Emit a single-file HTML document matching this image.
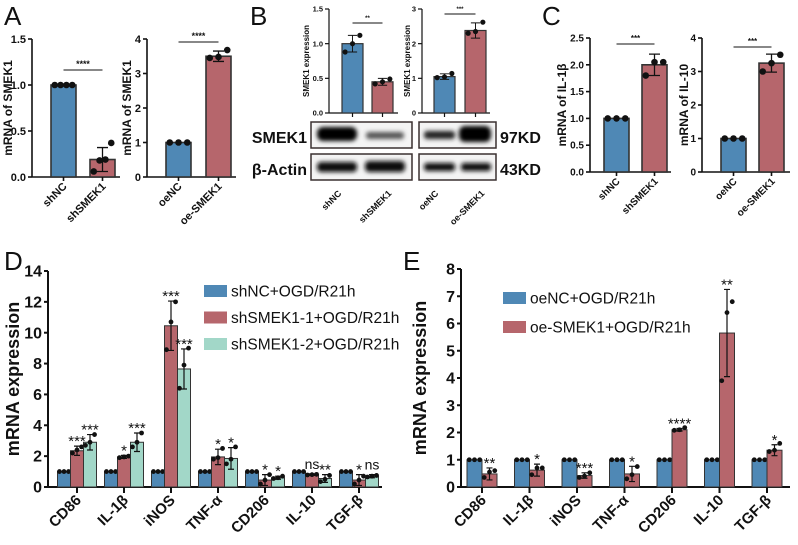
<!DOCTYPE html>
<html><head><meta charset="utf-8"><style>
body{margin:0;background:#fff;}
svg{display:block;font-family:"Liberation Sans",Arial,sans-serif;}
</style></head><body>
<svg id="fig" width="798" height="545" viewBox="0 0 798 545" xmlns="http://www.w3.org/2000/svg">
<defs><filter id="blur" x="-20%" y="-50%" width="140%" height="200%"><feGaussianBlur stdDeviation="2.2"/></filter></defs>
<g font-size="26" fill="#111">
<text x="4" y="25">A</text>
<text x="250" y="25">B</text>
<text x="542" y="25">C</text>
<text x="4" y="270">D</text>
<text x="403" y="270">E</text>
</g>
<g id="blots">
<rect x="311" y="122" width="101" height="26" fill="#f4f4f4" stroke="#3a3030" stroke-width="1.5"/>
<rect x="419" y="122" width="77" height="26" fill="#f4f4f4" stroke="#3a3030" stroke-width="1.5"/>
<rect x="311" y="154" width="101" height="26" fill="#f4f4f4" stroke="#3a3030" stroke-width="1.5"/>
<rect x="419" y="154" width="77" height="26" fill="#f4f4f4" stroke="#3a3030" stroke-width="1.5"/>
<g filter="url(#blur)">
<rect x="317" y="127" width="40" height="14" rx="6" fill="#000"/>
<rect x="366" y="132" width="38" height="7" rx="3" fill="#555"/>
<rect x="424" y="131" width="31" height="8" rx="3" fill="#222"/>
<rect x="459" y="126" width="32" height="16" rx="6" fill="#000"/>
<rect x="317" y="162" width="40" height="10" rx="4" fill="#111"/>
<rect x="365" y="161" width="40" height="11" rx="4" fill="#111"/>
<rect x="424" y="163" width="31" height="8" rx="3" fill="#111"/>
<rect x="461" y="163" width="30" height="8" rx="3" fill="#111"/>
</g>
<g font-weight="bold" font-size="16" fill="#111">
<text x="307" y="143" text-anchor="end">SMEK1</text>
<text x="307" y="175" text-anchor="end">β-Actin</text>
<text x="500" y="143">97KD</text>
<text x="500" y="175">43KD</text>
</g>
<g font-weight="bold" font-size="9" fill="#111" text-anchor="end">
<text transform="translate(342,194) rotate(-45)">shNC</text>
<text transform="translate(392,194) rotate(-45)">shSMEK1</text>
<text transform="translate(439,194) rotate(-45)">oeNC</text>
<text transform="translate(485,194) rotate(-45)">oe-SMEK1</text>
</g>
</g>
</svg>
<script>
const BLUE="#4f88b5", RED="#b6666c", TEAL="#a2d7c8";
// Panel A
const aLeftCats=["shNC","shSMEK1"], aLeftVals=[1.0,0.19], aLeftErr=[0,0.13], aLeftPts=[[1,1,1,1],[0.06,0.18,0.19,0.37]], aLeftTicks=[0,0.5,1.0,1.5], aLeftStar="****";
const aRightCats=["oeNC","oe-SMEK1"], aRightVals=[1.0,3.5], aRightErr=[0,0.15], aRightPts=[[1,1,1],[3.45,3.48,3.68]], aRightTicks=[0,1,2,3,4], aRightStar="****";
// Panel B
const bLeftVals=[1.0,0.45], bLeftErr=[0.12,0.05], bLeftPts=[[0.88,1.0,1.12],[0.42,0.45,0.49]], bLeftTicks=[0,0.5,1.0,1.5], bLeftStar="**";
const bRightVals=[1.05,2.38], bRightErr=[0.08,0.22], bRightPts=[[1.02,1.04,1.14],[2.3,2.35,2.62]], bRightTicks=[0,1,2,3], bRightStar="***";
// Panel C
const cLeftCats=["shNC","shSMEK1"], cLeftVals=[1.0,2.0], cLeftErr=[0,0.2], cLeftPts=[[1,1,1],[1.8,2.05,2.05]], cLeftTicks=[0,0.5,1.0,1.5,2.0,2.5], cLeftStar="***";
const cRightCats=["oeNC","oe-SMEK1"], cRightVals=[1.0,3.25], cRightErr=[0,0.27], cRightPts=[[1,1,1],[3.0,3.25,3.5]], cRightTicks=[0,1,2,3,4], cRightStar="***";
// Panel D
const dCats=["CD86","IL-1β","iNOS","TNF-α","CD206","IL-10","TGF-β"];
const dSeriesNames=["shNC+OGD/R21h","shSMEK1-1+OGD/R21h","shSMEK1-2+OGD/R21h"];
const dNC=[1,1,1,1,1,1,1];
const dSh1=[2.35,1.95,10.45,1.95,0.45,0.8,0.45];
const dSh1Err=[0.3,0.1,1.6,0.5,0.35,0.05,0.35];
const dSh2=[2.9,2.9,7.65,1.85,0.6,0.55,0.7];
const dSh2Err=[0.5,0.6,1.3,0.7,0.1,0.25,0.1];
const dSh1Pts=[[2.2,2.4,2.6],[1.9,1.95,2.0],[8.9,10.7,12.0],[1.8,1.9,2.5],[0.2,0.45,0.8],[0.78,0.8,0.82],[0.2,0.45,0.7]];
const dSh2Pts=[[2.7,2.9,3.4],[2.6,2.9,3.5],[6.4,7.9,9.0],[1.5,1.8,2.6],[0.55,0.6,0.7],[0.35,0.5,0.75],[0.65,0.7,0.75]];
const dStars1=["***","*","***","*","*","ns","*"];
const dStars2=["***","***","***","*","*","**","ns"];
const dTicks=[0,2,4,6,8,10,12,14];
// Panel E
const eCats=["CD86","IL-1β","iNOS","TNF-α","CD206","IL-10","TGF-β"];
const eSeriesNames=["oeNC+OGD/R21h","oe-SMEK1+OGD/R21h"];
const eNC=[1,1,1,1,1,1,1];
const eOE=[0.48,0.62,0.42,0.48,2.1,5.65,1.35];
const eOEErr=[0.22,0.22,0.1,0.28,0.05,1.6,0.2];
const eOEPts=[[0.35,0.55,0.6],[0.45,0.7,0.7],[0.35,0.4,0.52],[0.3,0.45,0.75],[2.08,2.1,2.18],[3.9,6.4,6.8],[1.3,1.35,1.6]];
const eStars=["**","*","***","*","****","**","*"];
const eTicks=[0,1,2,3,4,5,6,7,8];

const svg=document.getElementById('fig');
const NS="http://www.w3.org/2000/svg";
function mk(tag,attrs,parent){const e=document.createElementNS(NS,tag);for(const k in attrs)e.setAttribute(k,attrs[k]);(parent||svg).appendChild(e);return e;}

function axisY(g,x0,yTop,yBot,ticks,fs,fmt,lw){
  const max=ticks[ticks.length-1];
  const sy=v=>yBot-(v/max)*(yBot-yTop);
  const ax=mk('line',{x1:x0,x2:x0,y1:yTop,y2:yBot,stroke:'#111','stroke-width':lw},g);
  
  
  ticks.forEach(t=>{
    const y=sy(t);
    const tk=mk('line',{x1:x0-4,x2:x0,y1:y,y2:y,stroke:'#111','stroke-width':lw},g);
    
    
    const tx=mk('text',{x:x0-6,y:y+fs*0.35,'text-anchor':'end','font-size':fs,'font-weight':'bold',fill:'#111'},g);
    tx.textContent=fmt?t.toFixed(1):String(t);
    
    
  });
  return sy;
}

function bar(g,x,w,v,sy,color,lw){
  const y=sy(v),y0=sy(0);
  const r=mk('rect',{x:x,y:y,width:w,height:y0-y,fill:color,stroke:'#333','stroke-width':lw},g);
  
  
}
function errbar(g,cx,v,e,sy,cap,lw){
  if(e<=0)return;
  const l=mk('path',{d:`M${cx},${sy(v-e)}V${sy(v+e)}M${cx-cap},${sy(v+e)}H${cx+cap}M${cx-cap},${sy(v-e)}H${cx+cap}`,stroke:'#111','stroke-width':lw,fill:'none'},g);
  
  
}
function points(g,cx,w,pts,sy,r){
  const n=pts.length;
  pts.forEach((p,i)=>{
    const dx=n===1?0:(i-(n-1)/2)*(w*0.7/(n-1));
    const c=mk('circle',{cx:cx+dx,cy:sy(p),r:r,fill:'#111'},g);
    
    
  });
}

function smallChart(o){
  const g=mk('g',{});
  
  
  const sy=axisY(g,o.x0,o.yTop,o.yBot,o.ticks,o.fs,o.fmt,o.lw);
  const base=mk('line',{x1:o.x0,x2:o.xEnd,y1:o.yBot,y2:o.yBot,stroke:'#111','stroke-width':o.lw},g);
  
  
  const cols=[BLUE,RED];
  o.vals.forEach((v,i)=>{
    const x=o.bx[i],cx=x+o.bw/2;
    bar(g,x,o.bw,v,sy,cols[i],o.lw);
    errbar(g,cx,v,o.err[i],sy,o.bw*0.22,o.lw*0.8);
    points(g,cx,o.bw,o.pts[i],sy,o.pr);
    const tk=mk('line',{x1:cx,x2:cx,y1:o.yBot,y2:o.yBot+4,stroke:'#111','stroke-width':o.lw},g);
    
    
    if(o.cats){
      const t=mk('text',{transform:`translate(${cx+4},${o.yBot+10}) rotate(-45)`,'text-anchor':'end','font-size':o.xfs,'font-weight':'bold',fill:'#111'},g);
      t.textContent=o.cats[i];
      
      
    }
  });
  const c1=o.bx[0]+o.bw/2,c2=o.bx[1]+o.bw/2,yl=o.sigY;
  const sl=mk('line',{x1:c1,x2:c2,y1:yl,y2:yl,stroke:'#111','stroke-width':1},g);
  
  
  const st=mk('text',{x:(c1+c2)/2,y:yl-3,'text-anchor':'middle','font-size':o.fs*0.8,'font-weight':'bold',fill:'#111'},g);
  st.textContent=o.star;
  
  
  const yt=mk('text',{transform:`translate(${o.ytX},${(o.yTop+o.yBot)/2}) rotate(-90)`,'text-anchor':'middle','font-size':o.ytfs,'font-weight':'bold',fill:'#111'},g);
  yt.textContent=o.ytitle;
  
  
}

smallChart({name:'chart-a-knockdown',x0:32,xEnd:120,yTop:39,yBot:177,ticks:aLeftTicks,fmt:true,fs:11,lw:1.6,vals:aLeftVals,err:aLeftErr,pts:aLeftPts,bx:[51,90],bw:25,pr:3.3,cats:aLeftCats,xfs:11,sigY:70,star:aLeftStar,ytX:12,ytitle:'mRNA of SMEK1',ytfs:12});
smallChart({name:'chart-a-overexpression',x0:147,xEnd:236,yTop:39,yBot:177,ticks:aRightTicks,fmt:false,fs:11,lw:1.6,vals:aRightVals,err:aRightErr,pts:aRightPts,bx:[166,206],bw:25,pr:3.3,cats:aRightCats,xfs:11,sigY:42,star:aRightStar,ytX:131,ytitle:'mRNA of SMEK1',ytfs:12});
smallChart({name:'chart-b-knockdown',x0:329,xEnd:398,yTop:9,yBot:113,ticks:bLeftTicks,fmt:true,fs:7.5,lw:1.2,vals:bLeftVals,err:bLeftErr,pts:bLeftPts,bx:[342,372],bw:21,pr:2.6,cats:null,xfs:9,sigY:23,star:bLeftStar,ytX:309,ytitle:'SMEK1 expression',ytfs:8});
smallChart({name:'chart-b-overexpression',x0:422,xEnd:490,yTop:9,yBot:113,ticks:bRightTicks,fmt:false,fs:7.5,lw:1.2,vals:bRightVals,err:bRightErr,pts:bRightPts,bx:[434,465],bw:21,pr:2.6,cats:null,xfs:9,sigY:14,star:bRightStar,ytX:410,ytitle:'SMEK1 expression',ytfs:8});
smallChart({name:'chart-c-il1b',x0:590,xEnd:671,yTop:38,yBot:172,ticks:cLeftTicks,fmt:true,fs:10,lw:1.6,vals:cLeftVals,err:cLeftErr,pts:cLeftPts,bx:[604,642],bw:25,pr:3.3,cats:cLeftCats,xfs:10,sigY:44,star:cLeftStar,ytX:566,ytitle:'mRNA of IL-1β',ytfs:12});
smallChart({name:'chart-c-il10',x0:702,xEnd:790,yTop:38,yBot:172,ticks:cRightTicks,fmt:false,fs:10,lw:1.6,vals:cRightVals,err:cRightErr,pts:cRightPts,bx:[721,759],bw:25,pr:3.3,cats:cRightCats,xfs:10,sigY:47,star:cRightStar,ytX:688,ytitle:'mRNA of IL-10',ytfs:12});

function groupChart(o){
  const g=mk('g',{});
  
  
  const sy=axisY(g,o.x0,o.yTop,o.yBot,o.ticks,16,false,2);
  const base=mk('line',{x1:o.x0,x2:o.xEnd,y1:o.yBot,y2:o.yBot,stroke:'#111','stroke-width':2},g);
  
  
  const ns=o.series.length;
  o.cats.forEach((c,i)=>{
    const gc=o.c0+i*o.step;
    o.series.forEach((s,j)=>{
      const x=gc-ns*o.bw/2+j*o.bw, cx=x+o.bw/2;
      bar(g,x,o.bw,s.vals[i],sy,s.color,1);
      if(s.err)errbar(g,cx,s.vals[i],s.err[i],sy,3,1.2);
      points(g,cx,o.bw,s.pts?s.pts[i]:[s.vals[i],s.vals[i],s.vals[i]],sy,2.4);
      if(s.stars){
        const top=s.vals[i]+(s.err?s.err[i]:0);
        const st=mk('text',{x:cx,y:sy(top)-5+(s.stars[i]==='ns'?0:5),'text-anchor':'middle','font-size':s.stars[i]==='ns'?14:15,fill:'#111'},g);
        st.textContent=s.stars[i];
        
        
      }
    });
    const tk=mk('line',{x1:gc,x2:gc,y1:o.yBot,y2:o.yBot+6,stroke:'#111','stroke-width':2},g);
    
    
    const t=mk('text',{transform:`translate(${gc+5},${o.yBot+14}) rotate(-45)`,'text-anchor':'end','font-size':15,'font-weight':'bold',fill:'#111'},g);
    t.textContent=c;
    
    
  });
  const yt=mk('text',{transform:`translate(${o.ytX},${(o.yTop+o.yBot)/2}) rotate(-90)`,'text-anchor':'middle','font-size':18,'font-weight':'bold',fill:'#111'},g);
  yt.textContent='mRNA expression';
  
  
  o.series.forEach((s,j)=>{
    const y=o.legY+j*o.legStep;
    const r=mk('rect',{x:o.legX,y:y-6,width:23,height:12,fill:s.color},g);
    
    
    const t=mk('text',{x:o.legX+27,y:y+5.5,'font-size':15.5,fill:'#111'},g);
    t.textContent=s.name;
    
    
  });
}
groupChart({name:'chart-d',x0:48,xEnd:382,yTop:271,yBot:487,ticks:dTicks,cats:dCats,c0:77,step:47,bw:13,ytX:19,legX:204,legY:291,legStep:26.5,
  series:[{name:dSeriesNames[0],vals:dNC,color:BLUE},{name:dSeriesNames[1],vals:dSh1,err:dSh1Err,pts:dSh1Pts,stars:dStars1,color:RED},{name:dSeriesNames[2],vals:dSh2,err:dSh2Err,pts:dSh2Pts,stars:dStars2,color:TEAL}]});
groupChart({name:'chart-e',x0:461,xEnd:790,yTop:269,yBot:487,ticks:eTicks,cats:eCats,c0:482,step:47.5,bw:15,ytX:426,legX:503,legY:298,legStep:29,
  series:[{name:eSeriesNames[0],vals:eNC,color:BLUE},{name:eSeriesNames[1],vals:eOE,err:eOEErr,pts:eOEPts,stars:eStars,color:RED}]});
</script>
</body></html>
